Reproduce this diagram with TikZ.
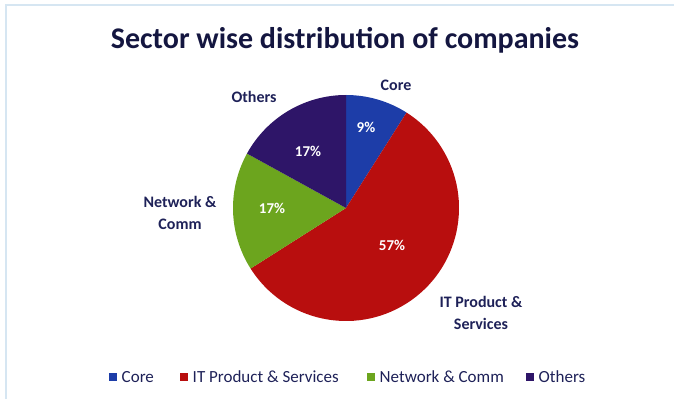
\documentclass[tikz,border=0pt]{standalone}
\usepackage{fontspec}
\setmainfont{Carlito}
\usepackage{tikz}

\definecolor{inkblue}{HTML}{1E2158}
\definecolor{titleblue}{HTML}{141640}
\definecolor{framecol}{HTML}{D6E6F2}
\definecolor{coreblue}{HTML}{1D3DA8}
\definecolor{itred}{HTML}{B80E0E}
\definecolor{netgreen}{HTML}{6CA51E}
\definecolor{othpurple}{HTML}{2E1568}

\begin{document}
\begin{tikzpicture}[x=1pt, y=1pt,
                    lbl/.style={text=inkblue, align=center,
                                font=\bfseries\fontsize{16}{22}\selectfont},
                    pct/.style={text=white,
                                font=\bfseries\fontsize{15}{17}\selectfont},
                    key/.style={fill, minimum size=8pt, inner sep=0pt},
                    keytext/.style={text=inkblue, anchor=west,
                                font=\fontsize{17}{19}\selectfont}]
  \useasboundingbox (0,0) rectangle (674,399);
  \draw[framecol, line width=1.2pt] (6,0) -- (6,394) -- (674,394);

  \node[text=titleblue, font=\bfseries\fontsize{30}{34}\selectfont]
       (title) at (345,359) {Sector wise distribution of companies};

  % pie
  \coordinate (C) at (346,191);
  \foreach \a/\b/\c in {57.6/90/coreblue, -147.6/57.6/itred,
                        -208.8/-147.6/netgreen, -270/-208.8/othpurple} {
          \fill[\c] (C) -- ([shift={(\a:113pt)}]C) arc (\a:\b:113pt) -- cycle;
      }

  \node[pct] (pcore) at (366,272) {9\%};
  \node[pct] (pit) at (392,154) {57\%};
  \node[pct] (pnet) at (272,191) {17\%};
  \node[pct] (poth) at (308,248) {17\%};

  \node[lbl] (lcore) at (396,314) {Core};
  \node[lbl] (loth) at (254,302) {Others};
  \node[lbl] (lnet) at (180,186) {Network \&\\Comm};
  \node[lbl] (lit) at (481,86) {IT Product \&\\Services};

  % legend
  \foreach \x/\c/\t/\n in {113/coreblue/Core/kcore,
                           184/itred/IT Product \& Services/kit,
                           371/netgreen/Network \& Comm/knet,
                           530/othpurple/Others/koth} {
          \node[key, \c] (\n) at (\x,22) {};
          \node[keytext] (\n t) at ([xshift=1pt]\n.east) {\t};
      }
\end{tikzpicture}
\end{document}
